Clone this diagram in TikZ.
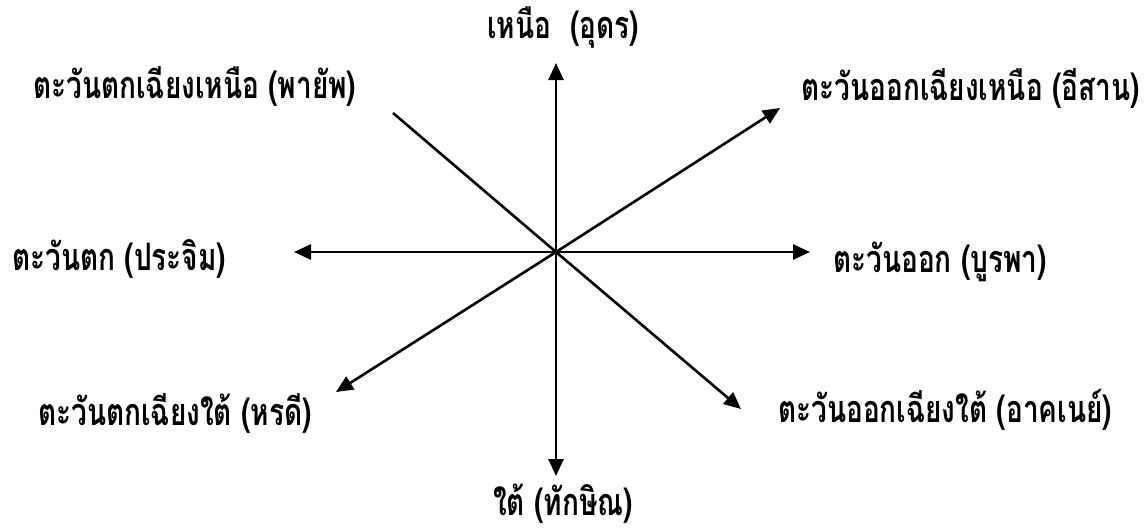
\documentclass[tikz,border=0pt]{standalone}
\usepackage{fontspec}
\usepackage{graphicx}
\newfontfamily\thaifont[Script=Thai]{Loma}
\usetikzlibrary{arrows.meta}
\newcommand{\tallx}[1]{\scalebox{1}[1.35]{#1}}
\begin{document}
\begin{tikzpicture}[x=1pt,y=-1pt,
  dirline/.style={line width=2.6pt, -{Triangle[length=17pt,width=15pt]}},
  plainline/.style={line width=2.6pt},
  lbl/.style={font=\thaifont\bfseries\fontsize{28}{32}\selectfont, inner sep=0pt}]
\useasboundingbox (0,0) rectangle (1145,531);
\coordinate (c) at (556,252);
\coordinate (n) at (556,63);
\coordinate (s) at (556,476);
\coordinate (w) at (294,252);
\coordinate (e) at (810,252);
\coordinate (ne) at (780,108);
\coordinate (sw) at (336,392);
\coordinate (se) at (741,409);
\coordinate (nw) at (393,113);
\draw[dirline] (c) -- (n);
\draw[dirline] (c) -- (s);
\draw[dirline] (c) -- (w);
\draw[dirline] (c) -- (e);
\draw[dirline] (c) -- (ne);
\draw[dirline] (c) -- (sw);
\draw[dirline] (c) -- (se);
\draw[plainline] (c) -- (nw);
\node[lbl, anchor=base] (tn) at (563,38) {\tallx{เหนือ\ \ (อุดร)}};
\node[lbl, anchor=base west] (tnw) at (33,98) {\tallx{ตะวันตกเฉียงเหนือ (พายัพ)}};
\node[lbl, anchor=base east] (tne) at (1140,100) {\tallx{ตะวันออกเฉียงเหนือ (อีสาน)}};
\node[lbl, anchor=base west] (tw) at (12,270) {\tallx{ตะวันตก (ประจิม)}};
\node[lbl, anchor=base west] (te) at (833,272) {\tallx{ตะวันออก (บูรพา)}};
\node[lbl, anchor=base west] (tsw) at (38,425) {\tallx{ตะวันตกเฉียงใต้ (หรดี)}};
\node[lbl, anchor=base west] (tse) at (778,422) {\tallx{ตะวันออกเฉียงใต้ (อาคเนย์)}};
\node[lbl, anchor=base] (ts) at (563,515) {\tallx{ใต้ (ทักษิณ)}};
\end{tikzpicture}
\end{document}
